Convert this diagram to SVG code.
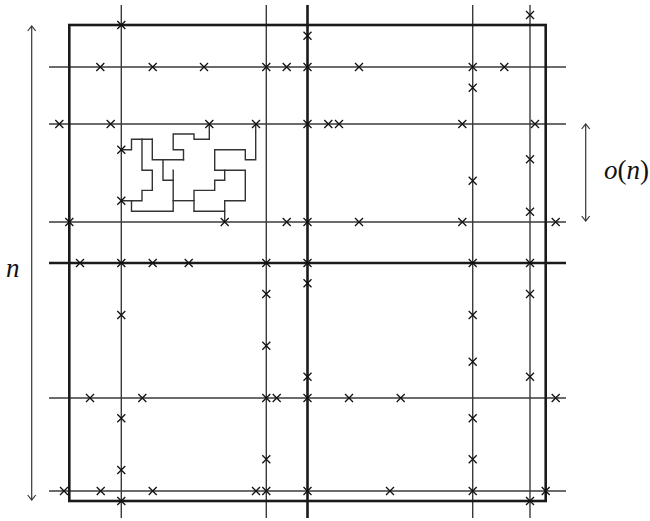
<svg xmlns="http://www.w3.org/2000/svg" xmlns:xlink="http://www.w3.org/1999/xlink" width="650" height="521" viewBox="0 0 650 521">
<style>
.thin{stroke:#3a3a3a;stroke-width:1.4;fill:none}
.thick{stroke:#1a1a1a;stroke-width:2.6;fill:none}
.walk{stroke:#333;stroke-width:1.4;fill:none;stroke-linecap:square}
.arr{stroke:#333;stroke-width:1.2;fill:none}
.lbl{font-family:"Liberation Serif","Times New Roman",serif;font-size:27px;fill:#111}
.it{font-style:italic}
</style>
<defs>
<path id="x" d="M-4,-4L4,4M-4,4L4,-4" stroke="#111" stroke-width="1.3" fill="none"/>
<marker id="ah" viewBox="-6 -5 7 10" refX="0" refY="0" markerWidth="7" markerHeight="10" markerUnits="userSpaceOnUse" orient="auto-start-reverse">
<path d="M-5,-4L0,0L-5,4" fill="none" stroke="#333" stroke-width="1.2"/>
</marker>
</defs>
<rect x="0" y="0" width="650" height="521" fill="#fff"/>
<g id="grid">
<g id="hlines" class="thin">
<line x1="49" y1="67" x2="566" y2="67"/>
<line x1="49" y1="124" x2="566" y2="124"/>
<line x1="49" y1="222" x2="566" y2="222"/>
<line x1="49" y1="398" x2="566" y2="398"/>
<line x1="49" y1="491" x2="566" y2="491"/>
</g>
<g id="vlines" class="thin">
<line x1="121.3" y1="5" x2="121.3" y2="518"/>
<line x1="266.3" y1="5" x2="266.3" y2="518"/>
<line x1="472.7" y1="5" x2="472.7" y2="518"/>
<line x1="530" y1="5" x2="530" y2="518"/>
</g>
<g id="thicklines" class="thick">
<line x1="49" y1="263" x2="566" y2="263"/>
<line x1="307.5" y1="5" x2="307.5" y2="518"/>
<rect x="69.3" y="25" width="476.4" height="476"/>
</g>
</g>
<g id="walk" class="walk">
<path d="M121.3,149.7H131.5V139.3H152.3"/>
<path d="M142,139.3V170.3H152.3V190.4H142V200.7H121.3"/>
<path d="M152.3,139.3V159.8H183.5"/>
<path d="M163,159.8V180.3H173.2"/>
<path d="M173.2,170.3V211.2H131.5V200.7"/>
<path d="M173.2,200.7H194"/>
<path d="M194,211.2V190.4H214.7V180.3H224.7V170.3"/>
<path d="M214.7,170.3H245.3V200.7H224.7V221.5"/>
<path d="M194,211.2H224.7"/>
<path d="M214.7,170.3V149.7H245.3V159.8H255.7V124"/>
<path d="M183.5,159.8V149.7H173.2V134H194V139.3H209.3V124"/>
</g>
<g id="crosses">
<use xlink:href="#x" x="100.3" y="67"/><use xlink:href="#x" x="152.7" y="67"/><use xlink:href="#x" x="204" y="67"/><use xlink:href="#x" x="266.3" y="67"/><use xlink:href="#x" x="286.7" y="67"/><use xlink:href="#x" x="307.5" y="67"/><use xlink:href="#x" x="359" y="67"/><use xlink:href="#x" x="472.7" y="67"/><use xlink:href="#x" x="504.3" y="67"/>
<use xlink:href="#x" x="59.3" y="124"/><use xlink:href="#x" x="110.7" y="124"/><use xlink:href="#x" x="209.3" y="124"/><use xlink:href="#x" x="256" y="124"/><use xlink:href="#x" x="307.5" y="124"/><use xlink:href="#x" x="328.3" y="124"/><use xlink:href="#x" x="339" y="124"/><use xlink:href="#x" x="462.3" y="124"/><use xlink:href="#x" x="535" y="124"/>
<use xlink:href="#x" x="69.3" y="222"/><use xlink:href="#x" x="224.7" y="222"/><use xlink:href="#x" x="286.7" y="222"/><use xlink:href="#x" x="307.5" y="222"/><use xlink:href="#x" x="359" y="222"/><use xlink:href="#x" x="462.3" y="222"/><use xlink:href="#x" x="555.7" y="222"/>
<use xlink:href="#x" x="80" y="263"/><use xlink:href="#x" x="121.3" y="263"/><use xlink:href="#x" x="152.7" y="263"/><use xlink:href="#x" x="188.7" y="263"/><use xlink:href="#x" x="266.3" y="263"/><use xlink:href="#x" x="307.5" y="263"/><use xlink:href="#x" x="472.7" y="263"/><use xlink:href="#x" x="530" y="263"/>
<use xlink:href="#x" x="90" y="398"/><use xlink:href="#x" x="142.3" y="398"/><use xlink:href="#x" x="266.3" y="398"/><use xlink:href="#x" x="276.7" y="398"/><use xlink:href="#x" x="307.5" y="398"/><use xlink:href="#x" x="349" y="398"/><use xlink:href="#x" x="400.7" y="398"/><use xlink:href="#x" x="555.7" y="398"/>
<use xlink:href="#x" x="64" y="491"/><use xlink:href="#x" x="100.7" y="491"/><use xlink:href="#x" x="152.7" y="491"/><use xlink:href="#x" x="256" y="491"/><use xlink:href="#x" x="266.3" y="491"/><use xlink:href="#x" x="307.5" y="491"/><use xlink:href="#x" x="390" y="491"/><use xlink:href="#x" x="472.7" y="491"/><use xlink:href="#x" x="545.7" y="491"/>
<use xlink:href="#x" x="121.3" y="25"/><use xlink:href="#x" x="121.3" y="149.7"/><use xlink:href="#x" x="121.3" y="200.7"/><use xlink:href="#x" x="121.3" y="315"/><use xlink:href="#x" x="121.3" y="418.3"/><use xlink:href="#x" x="121.3" y="470"/><use xlink:href="#x" x="121.3" y="501"/>
<use xlink:href="#x" x="266.3" y="294"/><use xlink:href="#x" x="266.3" y="345.7"/><use xlink:href="#x" x="266.3" y="459.3"/>
<use xlink:href="#x" x="307.5" y="35.7"/><use xlink:href="#x" x="307.5" y="283.3"/><use xlink:href="#x" x="307.5" y="376.7"/>
<use xlink:href="#x" x="472.7" y="87.7"/><use xlink:href="#x" x="472.7" y="180.7"/><use xlink:href="#x" x="472.7" y="315"/><use xlink:href="#x" x="472.7" y="361.7"/><use xlink:href="#x" x="472.7" y="418.3"/><use xlink:href="#x" x="472.7" y="459.3"/>
<use xlink:href="#x" x="530" y="15"/><use xlink:href="#x" x="530" y="159.3"/><use xlink:href="#x" x="530" y="211.7"/><use xlink:href="#x" x="530" y="294"/><use xlink:href="#x" x="530" y="376.7"/><use xlink:href="#x" x="530" y="501"/>
</g>
<g id="connectors">
<line class="arr" x1="31.7" y1="26" x2="31.7" y2="500" marker-start="url(#ah)" marker-end="url(#ah)"/>
<line class="arr" x1="585.7" y1="124" x2="585.7" y2="221" marker-start="url(#ah)" marker-end="url(#ah)"/>
</g>
<g id="label-n"><text class="lbl it" x="6" y="277">n</text></g>
<g id="label-on"><text class="lbl" x="604" y="179"><tspan class="it">o</tspan>(<tspan class="it">n</tspan>)</text></g>
</svg>
